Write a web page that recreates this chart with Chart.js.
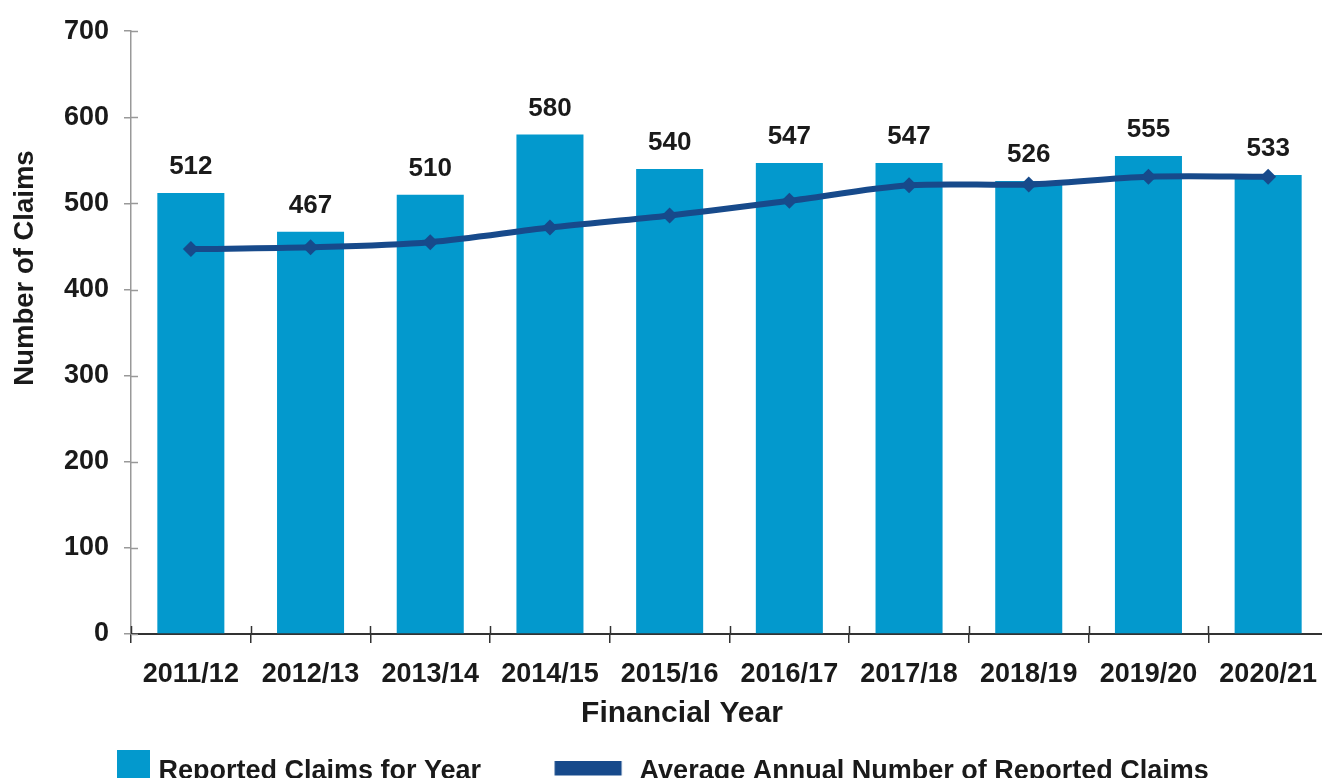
<!DOCTYPE html>
<html>
<head>
<meta charset="utf-8">
<script src="https://cdn.jsdelivr.net/npm/chart.js@4.4.1/dist/chart.umd.min.js"></script>
<style>
  html, body { margin: 0; padding: 0; overflow: hidden; background: #fff; }
  #wrap { width: 1336px; height: 795px; }
</style>
</head>
<body>
<div id="wrap"><canvas id="claimsChart" width="1336" height="795"></canvas></div>
<script>
const years = ['2011/12', '2012/13', '2013/14', '2014/15', '2015/16', '2016/17', '2017/18', '2018/19', '2019/20', '2020/21'];
const reportedClaims = [512, 467, 510, 580, 540, 547, 547, 526, 555, 533];
const averageClaims = [447, 449, 455, 472, 486, 503, 521, 522, 531, 531];
const yTicks = [0, 100, 200, 300, 400, 500, 600, 700];

const barColor = '#0399cd';
const lineColor = '#174a8b';
const textColor = '#1a1a1a';
const FONT = '"Liberation Sans", Arial, sans-serif';

// legend swatches drawn into small canvases (used as point style images)
function swatch(w, h, rx, ry, rw, rh, color) {
    const c = document.createElement('canvas');
    c.width = w; c.height = h;
    const g = c.getContext('2d');
    g.fillStyle = color;
    g.fillRect(rx, ry, rw, rh);
    return c;
}
const legendBoxW = 83;
const barSwatch = swatch(95, 43, 61, 0, 33, 33, barColor);
const lineSwatch = swatch(legendBoxW, 22, 11.5, 0, 67, 15, lineColor);

// value labels above bars + inner half of axis ticks + axis titles
const extras = {
    id: 'extras',
    afterDatasetsDraw(chart) {
        const ctx = chart.ctx;
        const meta = chart.getDatasetMeta(0);
        ctx.save();
        ctx.fillStyle = textColor;
        ctx.font = 'bold 26px ' + FONT;
        ctx.textAlign = 'center';
        ctx.textBaseline = 'alphabetic';
        meta.data.forEach((bar, i) => {
            ctx.fillText(String(reportedClaims[i]), bar.x, bar.y - 19);
        });
        ctx.restore();
    },
    afterDraw(chart) {
        const ctx = chart.ctx;
        const {x, y} = chart.scales;
        ctx.save();
        // y ticks cross the axis
        ctx.strokeStyle = '#999';
        ctx.lineWidth = 1.5;
        y.ticks.forEach((t, i) => {
            const py = Math.round(y.getPixelForTick(i)) + 0.5;
            ctx.beginPath();
            ctx.moveTo(y.right, py);
            ctx.lineTo(y.right + 7, py);
            ctx.stroke();
        });
        // x ticks cross the axis
        ctx.strokeStyle = '#333';
        for (let i = 0; i < years.length; i++) {
            const px = Math.round(x.getPixelForValue(i) - x.width / years.length / 2) + 0.5;
            ctx.beginPath();
            ctx.moveTo(px, x.top);
            ctx.lineTo(px, x.top - 8);
            ctx.stroke();
        }
        // axis titles
        ctx.fillStyle = textColor;
        ctx.textAlign = 'center';
        ctx.textBaseline = 'middle';
        ctx.font = 'bold 30px ' + FONT;
        ctx.fillText('Financial Year', 682, 714);
        ctx.translate(25, 268);
        ctx.rotate(-Math.PI / 2);
        ctx.font = 'bold 27.5px ' + FONT;
        ctx.fillText('Number of Claims', 0, 0);
        ctx.restore();
    }
};

new Chart(document.getElementById('claimsChart'), {
    type: 'bar',
    data: {
        labels: years,
        datasets: [
            {
                type: 'bar',
                label: 'Reported Claims for Year',
                data: reportedClaims,
                backgroundColor: barColor,
                categoryPercentage: 1,
                barPercentage: 0.56,
                order: 2
            },
            {
                type: 'line',
                label: 'Average Annual Number of Reported Claims',
                data: averageClaims,
                borderColor: lineColor,
                backgroundColor: lineColor,
                borderWidth: 6,
                tension: 0.3,
                pointStyle: 'rectRot',
                pointRadius: 8,
                pointBorderWidth: 0,
                order: 1
            }
        ]
    },
    options: {
        responsive: false,
        animation: false,
        layout: { padding: { top: 30, left: 0, right: 0, bottom: 0 } },
        plugins: {
            tooltip: { enabled: false },
            legend: {
                position: 'bottom',
                align: 'start',
                labels: {
                    usePointStyle: true,
                    pointStyleWidth: legendBoxW,
                    padding: 62,
                    color: textColor,
                    font: { family: FONT, size: 27, weight: 'bold' },
                    generateLabels: () => [
                        { text: 'Reported Claims for Year', pointStyle: barSwatch, datasetIndex: 0, fontColor: textColor },
                        { text: 'Average Annual Number of Reported Claims', pointStyle: lineSwatch, datasetIndex: 1, fontColor: textColor }
                    ]
                }
            }
        },
        scales: {
            x: {
                afterFit: s => { s.height = 62; },
                grid: { drawOnChartArea: false, offset: true, tickLength: 9, color: '#333', lineWidth: 1.5 },
                border: { color: '#333', width: 2 },
                ticks: { color: textColor, padding: 15, maxRotation: 0, font: { family: FONT, size: 27, weight: 'bold' } }
            },
            y: {
                min: 0,
                max: 700,
                afterFit: s => { s.width = 131; },
                afterBuildTicks: s => { s.ticks = yTicks.map(v => ({ value: v })); },
                grid: { drawOnChartArea: false, tickLength: 7, color: '#999', lineWidth: 1.5 },
                border: { color: '#999', width: 1.5 },
                ticks: { color: textColor, padding: 15, font: { family: FONT, size: 27, weight: 'bold' } }
            }
        }
    },
    plugins: [extras]
});
</script>
</body>
</html>
